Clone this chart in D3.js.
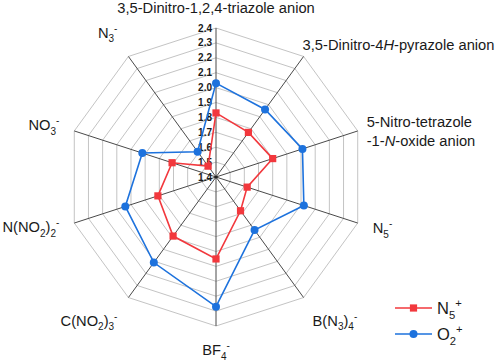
<!DOCTYPE html>
<html>
<head>
<meta charset="utf-8">
<script src="https://cdn.jsdelivr.net/npm/d3@7"></script>
<style>
  html, body { margin: 0; padding: 0; background: #fff; }
  svg { display: block; }
  text { font-family: Arial, "Liberation Sans", Helvetica, sans-serif; }
</style>
</head>
<body>
<svg id="radar" width="498" height="363"></svg>
<script>
// categories, clockwise from the top ( _x = subscript, ^x = superscript, *..* = italic, \n = new line )
const categories = [
  '3,5-Dinitro-1,2,4-triazole anion',
  '3,5-Dinitro-4*H*-pyrazole anion',
  '5-Nitro-tetrazole\n-1-*N*-oxide anion',
  'N_5^-',
  'B(N_3)_4^-',
  'BF_4^-',
  'C(NO_2)_3^-',
  'N(NO_2)_2^-',
  'NO_3^-',
  'N_3^-'
];
const n5Values = [1.83, 1.77, 1.80, 1.62, 1.68, 1.95, 1.89, 1.81, 1.71, 1.49];
const o2Values = [2.03, 1.96, 2.01, 2.02, 1.84, 2.27, 2.11, 2.04, 1.92, 1.61];
const tickValues = [1.4, 1.5, 1.6, 1.7, 1.8, 1.9, 2.0, 2.1, 2.2, 2.3, 2.4];
const seriesNames = ['N_5^+', 'O_2^+'];

const svg = d3.select('#radar');
const cx = 216, cy = 177, R = 149;
const red = '#f2383d', blue = '#1d72dd';
const font = 'Arial, "Liberation Sans", Helvetica, sans-serif';

const r = d3.scaleLinear().domain([1.4, 2.4]).range([0, R]);
const angle = d3.scaleLinear().domain([0, categories.length]).range([0, 2 * Math.PI]);

const g = svg.append('g').attr('transform', `translate(${cx},${cy})`);
const px = (i, rad) => rad * Math.sin(angle(i));
const py = (i, rad) => -rad * Math.cos(angle(i));

// write text with sub/superscripts and italics
function richLine(text, str, size) {
    let italic = false, shift = 0;
    const parts = [];
    for (let i = 0; i < str.length; i++) {
        const c = str[i];
        if (c === '*') { italic = !italic; continue; }
        if (c === '_' || c === '^') { parts.push({ t: str[++i], mode: c, italic }); continue; }
        const last = parts[parts.length - 1];
        if (last && last.mode === 'n' && last.italic === italic) last.t += c;
        else parts.push({ t: c, mode: 'n', italic });
    }
    text.attr('font-family', font).attr('font-size', size);
    parts.forEach(p => {
        const target = p.mode === '_' ? 0.3 * size : p.mode === '^' ? -0.42 * size : 0;
        text.append('tspan')
            .attr('dy', target - shift)
            .attr('font-size', p.mode === 'n' ? size : size * 0.68)
            .attr('font-style', p.italic ? 'italic' : 'normal')
            .text(p.t);
        shift = target;
    });
}

// grid rings
const ring = d3.lineRadial().curve(d3.curveLinearClosed)
    .angle((d, i) => angle(i)).radius(d => r(d));
tickValues.slice(1).forEach(t => {
    g.append('path')
        .attr('d', ring(categories.map(() => t)))
        .attr('fill', 'none')
        .attr('stroke', '#c4c4c4')
        .attr('stroke-width', 1);
});

// spokes
categories.forEach((c, i) => {
    g.append('line')
        .attr('x1', 0).attr('y1', 0)
        .attr('x2', px(i, R)).attr('y2', py(i, R))
        .attr('stroke', '#4a4a4a')
        .attr('stroke-width', 1);
});

// category labels (offset from the end of each spoke)
const labelPos = [[0, -20, 'middle'], [-1, -12, 'start'], [9, -9, 'start'], [15, 5, 'start'], [9, 23, 'start'],
                  [0, 24, 'middle'], [-11, 23, 'end'], [-15, 4, 'end'], [-15, -6, 'end'], [-11, -24, 'end']];
categories.forEach((c, i) => {
    const [dx, dy, anchor] = labelPos[i];
    c.split('\n').forEach((line, li) => {
        const t = g.append('text')
            .attr('x', px(i, R) + dx)
            .attr('y', py(i, R) + dy + 5.3 + li * 19)
            .attr('text-anchor', anchor)
            .attr('fill', '#1a1a1a');
        richLine(t, line, 14.7);
    });
});

// tick labels along the top spoke
g.selectAll('.tick')
    .data(tickValues)
    .join('text')
    .attr('x', -4)
    .attr('y', d => -r(d) + 3.5)
    .attr('text-anchor', 'end')
    .attr('font-family', font)
    .attr('font-size', 10)
    .attr('font-weight', 'bold')
    .attr('fill', '#1a1a1a')
    .text(d => d.toFixed(1));
g.append('circle').attr('r', 1.5).attr('fill', '#222');

// series
function drawSeries(values, color, marker) {
    g.append('path')
        .attr('d', ring(values))
        .attr('fill', 'none')
        .attr('stroke', color)
        .attr('stroke-width', 1.6);
    values.forEach((v, i) => {
        const x = px(i, r(v)), y = py(i, r(v));
        if (marker === 'square') {
            g.append('rect').attr('x', x - 3.6).attr('y', y - 3.6)
                .attr('width', 7.2).attr('height', 7.2).attr('fill', color);
        } else {
            g.append('circle').attr('cx', x).attr('cy', y).attr('r', 4).attr('fill', color);
        }
    });
}
drawSeries(n5Values, red, 'square');
drawSeries(o2Values, blue, 'circle');

// legend
const legend = [
    { name: seriesNames[0], color: red, marker: 'square', y: 308 },
    { name: seriesNames[1], color: blue, marker: 'circle', y: 334 }
];
legend.forEach(l => {
    svg.append('line').attr('x1', 395).attr('x2', 432).attr('y1', l.y).attr('y2', l.y)
        .attr('stroke', l.color).attr('stroke-width', 1.6);
    if (l.marker === 'square') {
        svg.append('rect').attr('x', 413.5 - 3.6).attr('y', l.y - 3.6)
            .attr('width', 7.2).attr('height', 7.2).attr('fill', l.color);
    } else {
        svg.append('circle').attr('cx', 413.5).attr('cy', l.y).attr('r', 4).attr('fill', l.color);
    }
    const t = svg.append('text').attr('x', 437).attr('y', l.y + 6).attr('fill', '#1a1a1a');
    richLine(t, l.name, 16.5);
});
</script>
</body>
</html>
